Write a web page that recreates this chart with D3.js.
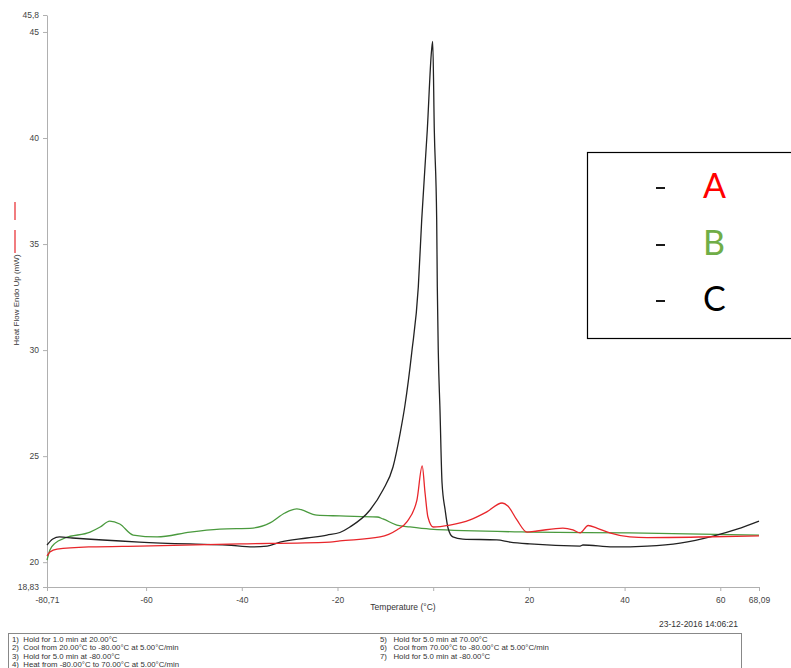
<!DOCTYPE html>
<html>
<head>
<meta charset="utf-8">
<script src="https://cdn.jsdelivr.net/npm/d3@7"></script>
<style>
  body { margin: 0; background: #fff; }
  svg { display: block; }
</style>
</head>
<body>
<div id="chart"></div>
<script>
// temperatures (°C) and heat flow (mW)
let tempA = [-80.71, -80.1, -78.6, -71.7, -61.3, -40.4, -21.6, -19.5, -11.1, -7.6, -5.5, -3.4, -2.3, -1.7, -1.1, 0.0, 3.5, 7.7, 11.2, 14.4, 15.6, 17.5, 19.6, 21.7, 27.1, 29.2, 30.7, 32.4, 34.2, 36.9, 41.1, 44.7, 58.5, 68.09];
let heatA = [20.3, 20.48, 20.62, 20.72, 20.76, 20.86, 20.95, 21.0, 21.19, 21.52, 21.9, 22.93, 24.54, 23.26, 22.13, 21.66, 21.75, 21.99, 22.37, 22.79, 22.65, 21.99, 21.42, 21.47, 21.61, 21.52, 21.38, 21.73, 21.61, 21.38, 21.19, 21.16, 21.2, 21.24];

let tempB = [-80.71, -80.1, -79.0, -76.95, -71.7, -69.6, -67.6, -65.5, -62.7, -57.7, -50.8, -44.6, -37.65, -34.1, -31, -28.5, -24.3, -19.5, -11.7, -10.5, -7.6, -4.85, -0.67, 20.2, 41.1, 68.09];
let heatB = [20.1, 20.57, 20.9, 21.14, 21.42, 21.66, 21.94, 21.8, 21.28, 21.19, 21.42, 21.56, 21.61, 21.85, 22.32, 22.51, 22.22, 22.18, 22.13, 22.04, 21.75, 21.66, 21.56, 21.42, 21.38, 21.28];

let tempC = [-80.71, -79.5, -78.1, -75.4, -61.4, -50.8, -43.1, -37.65, -34.7, -32.0, -26.4, -22.2, -19.5, -17.4, -13.2, -10.5, -8.4, -6.9, -5.9, -4.49, -3.11, -2.4, -1.23, -0.35, -0.1, 0.23, 0.73, 0.86, 1.07, 1.42, 1.85, 2.5, 3.1, 4.1, 6.2, 13.3, 16.05, 20.2, 30.7, 31.3, 37.6, 44.7, 51.6, 58.5, 63.5, 68.09];
let heatC = [20.81, 21.09, 21.19, 21.14, 20.95, 20.86, 20.81, 20.72, 20.76, 20.95, 21.14, 21.28, 21.4, 21.66, 22.46, 23.4, 24.49, 26.09, 27.4, 29.87, 32.98, 36.14, 40.39, 44.1, 44.55, 40.39, 36.14, 32.98, 29.87, 27.18, 23.73, 22.46, 21.61, 21.19, 21.09, 21.05, 20.95, 20.86, 20.76, 20.81, 20.72, 20.76, 20.9, 21.23, 21.56, 21.94];

let xTicks = [-80.71, -60, -40, -20, 0, 20, 40, 60, 68.09];
let yTicks = [18.83, 20, 25, 30, 35, 40, 45, 45.8];

let seriesNames = ["A", "B", "C"];
let seriesColors = ["#e8262b", "#4a9a3e", "#222222"];
let legendColors = ["#ff0000", "#70ad47", "#000000"];

let stepsLeft = ["1)  Hold for 1.0 min at 20.00°C", "2)  Cool from 20.00°C to -80.00°C at 5.00°C/min", "3)  Hold for 5.0 min at -80.00°C", "4)  Heat from -80.00°C to 70.00°C at 5.00°C/min"];
let stepsRight = ["5)   Hold for 5.0 min at 70.00°C", "6)   Cool from 70.00°C to -80.00°C at 5.00°C/min", "7)   Hold for 5.0 min at -80.00°C"];

let width = 791, height = 668;

let svg = d3.select("#chart").append("svg")
    .attr("width", width)
    .attr("height", height);

let x = d3.scaleLinear().domain([-80.71, 68.09]).range([47, 759]);
let y = d3.scaleLinear().domain([18.83, 45.8]).range([587, 15]);

let fmt = d => String(d).replace(".", ",");
// the 0 label sits under the axis title in the original, so it is not printed
let xFmt = d => d === 0 ? "" : fmt(d);

// axes
let xAxis = svg.append("g")
    .attr("transform", "translate(0,587)")
    .call(d3.axisBottom(x).tickValues(xTicks).tickFormat(xFmt).tickSize(4).tickSizeOuter(0));
let yAxis = svg.append("g")
    .attr("transform", "translate(47,0)")
    .call(d3.axisLeft(y).tickValues(yTicks).tickFormat(fmt).tickSize(4).tickSizeOuter(0));

[xAxis, yAxis].forEach(function(a) {
    a.selectAll(".domain").attr("stroke", "#b0b0b0");
    a.selectAll(".tick line").attr("stroke", "#b0b0b0");
    a.selectAll(".tick text")
        .style("font-family", "'Liberation Sans', Arial, sans-serif")
        .style("font-size", "8.5px")
        .attr("fill", "#444");
});
xAxis.selectAll(".tick text").attr("dy", "1.1em");
yAxis.selectAll(".tick text").attr("x", -8);

svg.append("text")
    .attr("x", 403)
    .attr("y", 610)
    .style("text-anchor", "middle")
    .style("font-family", "'Liberation Sans', Arial, sans-serif")
    .style("font-size", "8.5px")
    .attr("fill", "#333")
    .text("Temperature (°C)");

svg.append("text")
    .attr("transform", "translate(19,300) rotate(-90)")
    .style("text-anchor", "middle")
    .style("font-family", "'Liberation Sans', Arial, sans-serif")
    .style("font-size", "8px")
    .attr("fill", "#333")
    .text("Heat Flow Endo Up (mW)");

// red marker beside the y label
svg.append("line").attr("x1", 15).attr("x2", 15).attr("y1", 202).attr("y2", 220)
    .attr("stroke", "#e8262b").attr("stroke-width", 1.2);
svg.append("line").attr("x1", 15).attr("x2", 15).attr("y1", 230).attr("y2", 253)
    .attr("stroke", "#e8262b").attr("stroke-width", 1.2);

// curves
let temps = [tempA, tempB, tempC];
let heats = [heatA, heatB, heatC];
let line = d3.line()
    .x(d => x(d[0]))
    .y(d => y(d[1]))
    .curve(d3.curveMonotoneX);

// draw B first, then C, then A on top
[1, 2, 0].forEach(function(i) {
    let pts = temps[i].map((t, k) => [t, heats[i][k]]);
    svg.append("path")
        .datum(pts)
        .attr("fill", "none")
        .attr("stroke", seriesColors[i])
        .attr("stroke-width", 1.3)
        .attr("d", line);
});

// legend box
svg.append("rect")
    .attr("x", 587.5)
    .attr("y", 152.5)
    .attr("width", 220)
    .attr("height", 186)
    .attr("fill", "#fff")
    .attr("stroke", "#000")
    .attr("stroke-width", 1.2);

let legendY = [198, 255, 311];
for (let i = 0; i < seriesNames.length; i++) {
    svg.append("line")
        .attr("x1", 656)
        .attr("x2", 665)
        .attr("y1", legendY[i] - 10)
        .attr("y2", legendY[i] - 10)
        .attr("stroke", "#000")
        .attr("stroke-width", 1.8);
    svg.append("text")
        .attr("x", 703)
        .attr("y", legendY[i])
        .style("font-family", "Lato, 'Open Sans', sans-serif")
        .style("font-size", "34px")
        .attr("fill", legendColors[i])
        .text(seriesNames[i]);
}

// date stamp and method box
svg.append("text")
    .attr("x", 738)
    .attr("y", 627)
    .style("text-anchor", "end")
    .style("font-family", "'Liberation Sans', Arial, sans-serif")
    .style("font-size", "8.5px")
    .attr("fill", "#333")
    .text("23-12-2016 14:06:21");

svg.append("rect")
    .attr("x", 8.5)
    .attr("y", 633.5)
    .attr("width", 733)
    .attr("height", 45)
    .attr("fill", "none")
    .attr("stroke", "#888")
    .attr("stroke-width", 1);

stepsLeft.forEach(function(s, i) {
    svg.append("text")
        .attr("x", 12)
        .attr("y", 642 + i * 8.3)
        .style("font-family", "'Liberation Sans', Arial, sans-serif")
        .style("font-size", "7.8px")
        .style("white-space", "pre")
        .attr("fill", "#333")
        .text(s);
});
stepsRight.forEach(function(s, i) {
    svg.append("text")
        .attr("x", 380)
        .attr("y", 642 + i * 8.3)
        .style("font-family", "'Liberation Sans', Arial, sans-serif")
        .style("font-size", "7.8px")
        .style("white-space", "pre")
        .attr("fill", "#333")
        .text(s);
});
</script>
</body>
</html>
